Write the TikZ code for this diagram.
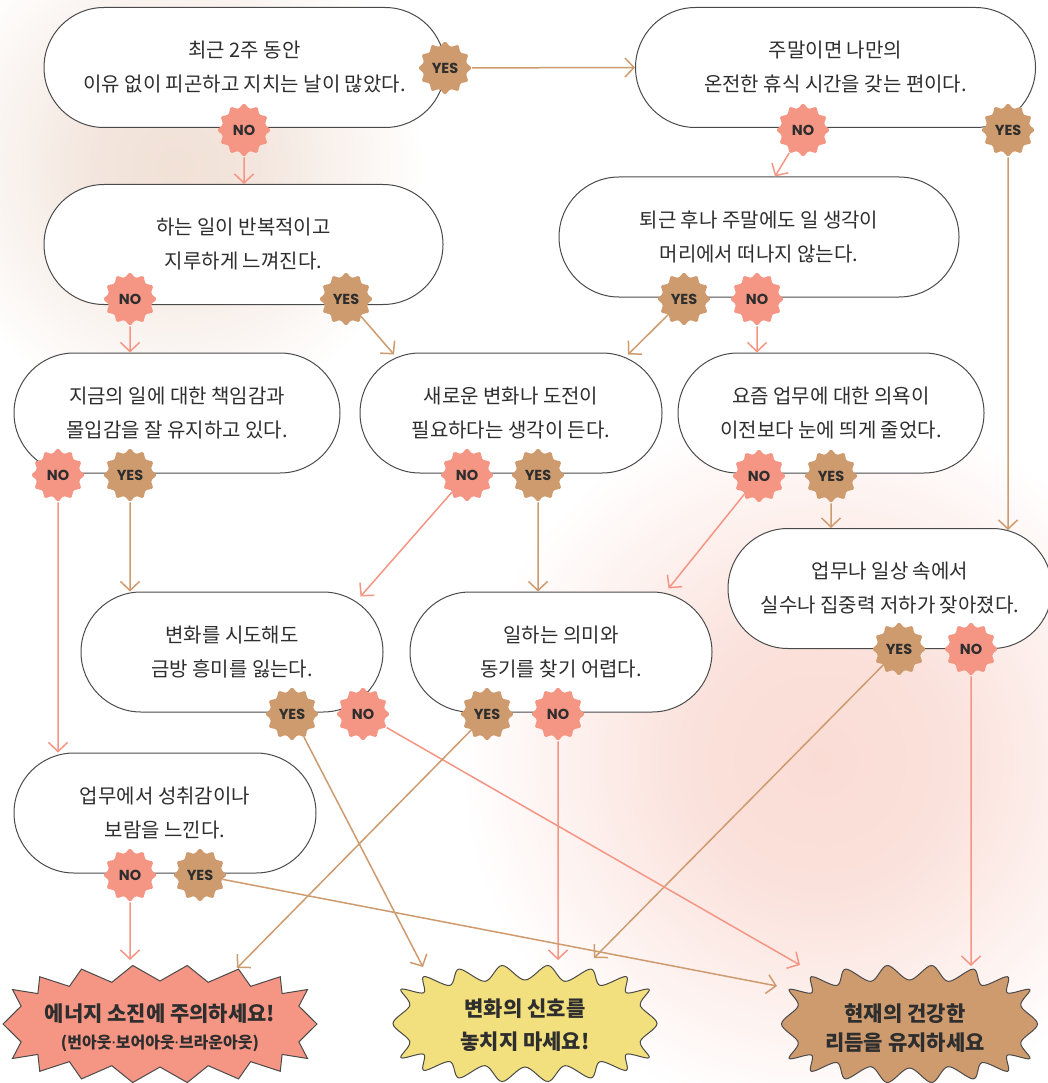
\documentclass[tikz,border=0pt]{standalone}
\usepackage{fontspec}
\setmainfont{Noto Sans CJK KR}
\newfontfamily\badgefont{Poppins}
\newfontfamily\latinfont{Noto Sans}
\usetikzlibrary{shapes.geometric,arrows.meta,calc}
\definecolor{salmon}{HTML}{F59584}
\definecolor{tanc}{HTML}{CE9B6F}
\definecolor{sunny}{HTML}{F2DF7E}
\definecolor{ink}{HTML}{2E2E2E}
\definecolor{edge}{HTML}{4A4A4A}
\definecolor{glowA}{HTML}{F1E1D7}
\definecolor{glowB}{HTML}{FADCD5}
\pgfdeclareradialshading{glowAshade}{\pgfpointorigin}{color(0bp)=(glowA); color(8bp)=(glowA!85!white); color(25bp)=(white); color(50bp)=(white)}
\pgfdeclareradialshading{glowBshade}{\pgfpointorigin}{color(0bp)=(glowB); color(9bp)=(glowB!85!white); color(25bp)=(white); color(50bp)=(white)}
% burst: cx, cy, a, b, d
\newcommand\burstpts[5]{plot[samples at={0,10,...,350}, variable=\t]
  ({#1+(#3-#5*(0.5-0.5*cos(18*\t)))*cos(\t)},
   {#2+(#4-#5*(0.5-0.5*cos(18*\t)))*sin(\t)/sqrt(abs(sin(\t))+0.0001)})}
\newcommand\mdot{{\latinfont\bfseries ·}}
\tikzset{
  qbox/.style={draw=edge, line width=1pt, fill=white, rounded corners=60pt,
    minimum height=120pt, align=center, inner sep=0pt, text=ink,
    font=\fontsize{20}{34}\selectfont},
  badge/.style={star, star points=12, star point ratio=1.25, minimum size=54pt,
    inner sep=0pt, rounded corners=1.5pt, text=ink,
    font=\badgefont\bfseries\fontsize{14.5}{16}\selectfont},
  yb/.style={badge, fill=tanc},
  nb/.style={badge, fill=salmon},
  yarr/.style={draw=tanc, line width=1.5pt, -{Straight Barb[length=9pt,width=19pt]}},
  narr/.style={draw=salmon, line width=1.5pt, -{Straight Barb[length=9pt,width=19pt]}},
  result/.style={align=center, text=ink, inner sep=0pt,
    font=\bfseries\fontsize{21}{31}\selectfont},
  burstline/.style={draw=edge, line width=1pt}
}
\begin{document}
\begin{tikzpicture}[x=1pt,y=-1pt]
\useasboundingbox (0,0) rectangle (1047,1083);
\fill[white] (0,0) rectangle (1047,1083);
\shade[shading=glowAshade] (175,165) circle (250pt);
\shade[shading=glowBshade] (820,760) circle (360pt);

% question boxes
\node[qbox, minimum width=401pt] (q1) at (244.5,67.5) {최근 2주 동안\\이유 없이 피곤하고 지치는 날이 많았다.};
\node[qbox, minimum width=400pt] (q2) at (835.5,67.5) {주말이면 나만의\\온전한 휴식 시간을 갖는 편이다.};
\node[qbox, minimum width=399pt] (q3) at (243.5,244.5) {하는 일이 반복적이고\\지루하게 느껴진다.};
\node[qbox, minimum width=400pt] (q4) at (759,237) {퇴근 후나 주말에도 일 생각이\\머리에서 떠나지 않는다.};
\node[qbox, minimum width=326pt] (q5) at (177,413) {지금의 일에 대한 책임감과\\몰입감을 잘 유지하고 있다.};
\node[qbox, minimum width=302pt] (q6) at (511,413) {새로운 변화나 도전이\\필요하다는 생각이 든다.};
\node[qbox, minimum width=306pt] (q7) at (831,413) {요즘 업무에 대한 의욕이\\이전보다 눈에 띄게 줄었다.};
\node[qbox, minimum width=324pt] (q8) at (890,588.5) {업무나 일상 속에서\\실수나 집중력 저하가 잦아졌다.};
\node[qbox, minimum width=302pt] (q9) at (232,652) {변화를 시도해도\\금방 흥미를 잃는다.};
\node[qbox, minimum width=302pt] (q10) at (561,652) {일하는 의미와\\동기를 찾기 어렵다.};
\node[qbox, minimum width=302pt] (q11) at (165,813) {업무에서 성취감이나\\보람을 느낀다.};

% result bursts
\draw[burstline, fill=salmon] \burstpts{160}{1024}{157}{59}{16} -- cycle;
\draw[burstline, fill=sunny] plot[smooth cycle, tension=0.55, samples at={0,10,...,350}, variable=\t]
  ({525+(132-15*(0.5-0.5*cos(18*\t)))*cos(\t)},
   {1023.5+(58.5-15*(0.5-0.5*cos(18*\t)))*sin(\t)/sqrt(abs(sin(\t))+0.0001)});
\draw[burstline, fill=tanc] plot[smooth cycle, tension=0.55, samples at={0,10,...,350}, variable=\t]
  ({909.5+(128-15*(0.5-0.5*cos(18*\t)))*cos(\t)},
   {1024+(59-15*(0.5-0.5*cos(18*\t)))*sin(\t)/sqrt(abs(sin(\t))+0.0001)});
\node[result] (r1) at (160,1028) {에너지 소진에 주의하세요!\\[-4pt]{\fontsize{16}{20}\selectfont (번아웃\mdot 보어아웃\mdot 브라운아웃)}};
\node[result, font=\bfseries\fontsize{21}{33}\selectfont] (r2) at (525,1025) {변화의 신호를\\놓치지 마세요!};
\node[result, font=\bfseries\fontsize{21}{29}\selectfont] (r3) at (905,1028) {현재의 건강한\\리듬을 유지하세요};

% badges
\node[yb] (q1y) at (445,68) {YES};
\node[nb] (q1n) at (244,130) {NO};
\node[nb] (q2n) at (803,130) {NO};
\node[yb] (q2y) at (1008,130) {YES};
\node[nb] (q3n) at (130,299) {NO};
\node[yb] (q3y) at (346,299) {YES};
\node[yb] (q4y) at (684,299) {YES};
\node[nb] (q4n) at (757,299) {NO};
\node[nb] (q5n) at (58,475) {NO};
\node[yb] (q5y) at (130,475) {YES};
\node[nb] (q6n) at (467,475) {NO};
\node[yb] (q6y) at (538,475) {YES};
\node[nb] (q7n) at (759,476) {NO};
\node[yb] (q7y) at (831,476) {YES};
\node[yb] (q8y) at (899,649) {YES};
\node[nb] (q8n) at (971,649) {NO};
\node[yb] (q9y) at (292,714) {YES};
\node[nb] (q9n) at (363,714) {NO};
\node[yb] (q10y) at (487,714) {YES};
\node[nb] (q10n) at (558,714) {NO};
\node[nb] (q11n) at (130,875) {NO};
\node[yb] (q11y) at (200,875) {YES};

% connectors
\draw[yarr] (q1y) -- (q2.west);
\draw[narr] (q1n) -- (q1n |- q3.north);
\draw[narr] (q2n) -- ($(q4.north)+(16,0)$);
\draw[yarr] (q2y) -- ($(q2y |- q8.north)+(0,2)$);
\draw[narr] (q3n) -- (q3n |- q5.north);
\draw[yarr] (q3y) -- ($(q6.north)+(-117,2)$);
\draw[yarr] (q4y) -- ($(q6.north)+(117,2)$);
\draw[narr] (q4n) -- (q4n |- q7.north);
\draw[narr] (q5n) -- (q5n |- q11.north);
\draw[yarr] (q5y) -- (q5y |- q9.north);
\draw[narr] (q6n) -- ($(q9.north east)+(-23,5)$);
\draw[yarr] (q6y) -- (q6y |- q10.north);
\draw[narr] (q7n) -- ($(q10.north east)+(-44,-3)$);
\draw[yarr] (q7y) -- (q7y |- q8.north);
\draw[yarr] (q8y) -- ($(r2)+(69,-67)$);
\draw[narr] (q8n) -- ($(r3)+(66,-62)$);
\draw[yarr] (q9y) -- ($(r2)+(-102,-58)$);
\draw[narr] (q9n) -- ($(r3)+(-105,-63)$);
\draw[yarr] (q10y) -- ($(r1)+(77,-60)$);
\draw[narr] (q10n) -- ($(r2)+(33,-65)$);
\draw[narr] (q11n) -- ($(r1)+(-30,-68)$);
\draw[yarr] (q11y) -- ($(r3)+(-128,-42)$);
\end{tikzpicture}
\end{document}
